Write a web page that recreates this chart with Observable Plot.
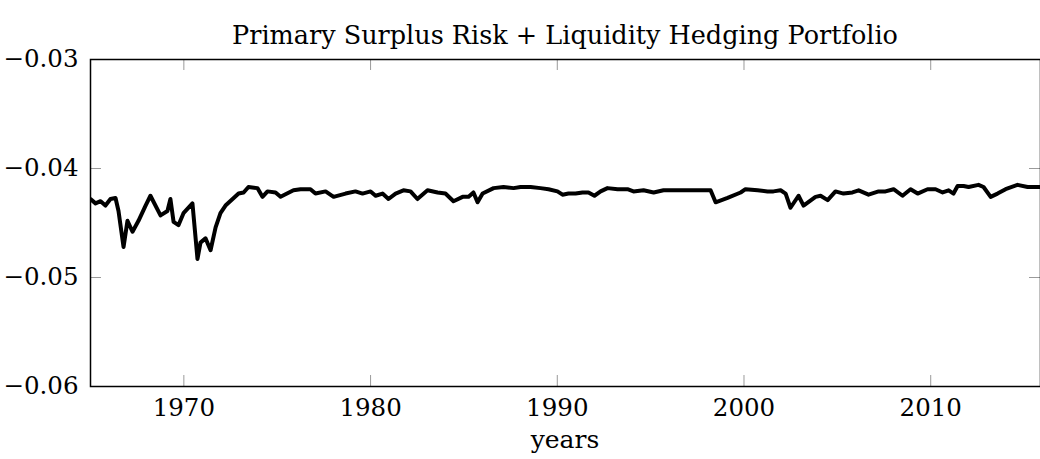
<!DOCTYPE html>
<html>
<head>
<meta charset="utf-8">
<script src="https://cdn.jsdelivr.net/npm/d3@7"></script>
<script src="https://cdn.jsdelivr.net/npm/@observablehq/plot@0.6"></script>
<style>
  html, body { margin: 0; padding: 0; background: #fff; }
  #wrap { width: 1040px; height: 459px; position: relative; font-family: "DejaVu Serif", "Liberation Serif", "Times New Roman", serif; }
  #title { position: absolute; left: 90px; width: 950px; top: 19px; text-align: center; font-size: 25.5px; line-height: 32px; color: #000; }
  #chart { position: absolute; left: 0; top: 50px; }
  #xlabel { position: absolute; left: 90px; width: 950px; top: 424px; text-align: center; font-size: 25px; line-height: 32px; color: #000; }
</style>
</head>
<body>
<div id="wrap">
  <div id="title">Primary Surplus Risk + Liquidity Hedging Portfolio</div>
  <div id="chart"></div>
  <div id="xlabel">years</div>
</div>
<script>
const years = [
  1965.00, 1965.27, 1965.54, 1965.80, 1966.07, 1966.34, 1966.50, 1966.77, 1966.98, 1967.25,
  1967.57, 1967.95, 1968.21, 1968.75, 1969.12, 1969.28, 1969.45, 1969.71, 1969.98, 1970.46,
  1970.73, 1970.89, 1971.16, 1971.43, 1971.70, 1971.96, 1972.23, 1972.61, 1972.93, 1973.20,
  1973.46, 1973.94, 1974.21, 1974.48, 1974.91, 1975.18, 1975.87, 1976.25, 1976.78, 1977.05,
  1977.59, 1978.02, 1978.66, 1979.19, 1979.57, 1980.00, 1980.27, 1980.64, 1980.96, 1981.34,
  1981.76, 1982.14, 1982.51, 1983.05, 1983.59, 1984.01, 1984.44, 1984.93, 1985.25, 1985.51,
  1985.73, 1986.00, 1986.59, 1987.12, 1987.66, 1988.03, 1988.57, 1989.10, 1989.53, 1990.01,
  1990.28, 1990.60, 1990.98, 1991.35, 1991.67, 1991.99, 1992.32, 1992.69, 1993.23, 1993.76,
  1994.08, 1994.62, 1995.16, 1995.69, 1996.33, 1997.14, 1997.68, 1998.21, 1998.48, 1999.12,
  1999.82, 2000.08, 2000.73, 2001.26, 2001.58, 2001.96, 2002.23, 2002.49, 2002.92, 2003.19,
  2003.83, 2004.10, 2004.48, 2004.90, 2005.33, 2005.81, 2006.14, 2006.67, 2007.21, 2007.58,
  2008.01, 2008.49, 2008.92, 2009.30, 2009.83, 2010.26, 2010.64, 2010.96, 2011.22, 2011.44,
  2011.76, 2012.03, 2012.56, 2012.83, 2013.21, 2013.58, 2014.01, 2014.65, 2015.19, 2015.88
];
const values = [
  -0.0428, -0.0432, -0.0430, -0.0434, -0.0428, -0.0427, -0.0439, -0.0472, -0.0448, -0.0458,
  -0.0448, -0.0434, -0.0425, -0.0443, -0.0439, -0.0428, -0.0449, -0.0452, -0.0441, -0.0432,
  -0.0483, -0.0468, -0.0464, -0.0475, -0.0454, -0.0441, -0.0434, -0.0428, -0.0423, -0.0422,
  -0.0417, -0.0418, -0.0426, -0.0421, -0.0422, -0.0426, -0.0420, -0.0419, -0.0419, -0.0423,
  -0.0421, -0.0426, -0.0423, -0.0421, -0.0423, -0.0421, -0.0425, -0.0423, -0.0428, -0.0423,
  -0.0420, -0.0421, -0.0428, -0.0420, -0.0422, -0.0423, -0.0430, -0.0426, -0.0426, -0.0422,
  -0.0431, -0.0423, -0.0418, -0.0417, -0.0418, -0.0417, -0.0417, -0.0418, -0.0419, -0.0421,
  -0.0424, -0.0423, -0.0423, -0.0422, -0.0422, -0.0425, -0.0421, -0.0418, -0.0419, -0.0419,
  -0.0421, -0.0420, -0.0422, -0.0420, -0.0420, -0.0420, -0.0420, -0.0420, -0.0431, -0.0427,
  -0.0422, -0.0419, -0.0420, -0.0421, -0.0421, -0.0420, -0.0423, -0.0436, -0.0425, -0.0434,
  -0.0426, -0.0425, -0.0429, -0.0421, -0.0423, -0.0422, -0.0420, -0.0424, -0.0421, -0.0421,
  -0.0419, -0.0425, -0.0419, -0.0423, -0.0419, -0.0419, -0.0422, -0.0420, -0.0423, -0.0416,
  -0.0416, -0.0417, -0.0415, -0.0417, -0.0426, -0.0423, -0.0419, -0.0415, -0.0417, -0.0417
];
const xTicks = [1970, 1980, 1990, 2000, 2010];
const yTicks = [-0.06, -0.05, -0.04, -0.03];
const xDomain = [1965, 2015.88];
const yDomain = [-0.06, -0.03];

const data = years.map((y, i) => ({year: y, value: values[i]}));

const W = 1040, H = 369;
const mL = 90, mR = 0, mT = 9, mB = 33;
const innerW = W - mL - mR, innerH = H - mT - mB;
const tickLen = 11;
const fmt = d => d.toFixed(2).replace("-", "\u2212");
const FONT = "'DejaVu Serif', 'Liberation Serif', 'Times New Roman', serif";

const chart = Plot.plot({
  width: W,
  height: H,
  marginLeft: mL,
  marginRight: mR,
  marginTop: mT,
  marginBottom: mB,
  style: {fontFamily: FONT, fontSize: "24px", color: "#000", background: "#fff", overflow: "visible"},
  x: {domain: xDomain},
  y: {domain: yDomain},
  marks: [
    Plot.tickX(xTicks, {x: d => d, stroke: "#9a9a9a", strokeWidth: 1, insetTop: innerH - tickLen}),
    Plot.tickX(xTicks, {x: d => d, stroke: "#9a9a9a", strokeWidth: 1, insetBottom: innerH - tickLen}),
    Plot.tickY(yTicks.slice(1, 3), {y: d => d, stroke: "#9a9a9a", strokeWidth: 1, insetRight: innerW - tickLen}),
    Plot.tickY(yTicks.slice(1, 3), {y: d => d, stroke: "#9a9a9a", strokeWidth: 1, insetLeft: innerW - tickLen}),
    Plot.axisX(xTicks, {tickSize: 0, tickPadding: 12, tickFormat: d => String(d), label: null, fontSize: 24.5, fontFamily: FONT}),
    Plot.axisY(yTicks, {tickSize: 0, tickPadding: 12, tickFormat: fmt, label: null, fontSize: 24.5, fontFamily: FONT}),
    Plot.frame({stroke: "#000", strokeWidth: 1.5}),
    Plot.line(data, {x: "year", y: "value", stroke: "#000", strokeWidth: 4, strokeLinejoin: "round", clip: true})
  ]
});
document.getElementById("chart").appendChild(chart);
</script>
</body>
</html>
